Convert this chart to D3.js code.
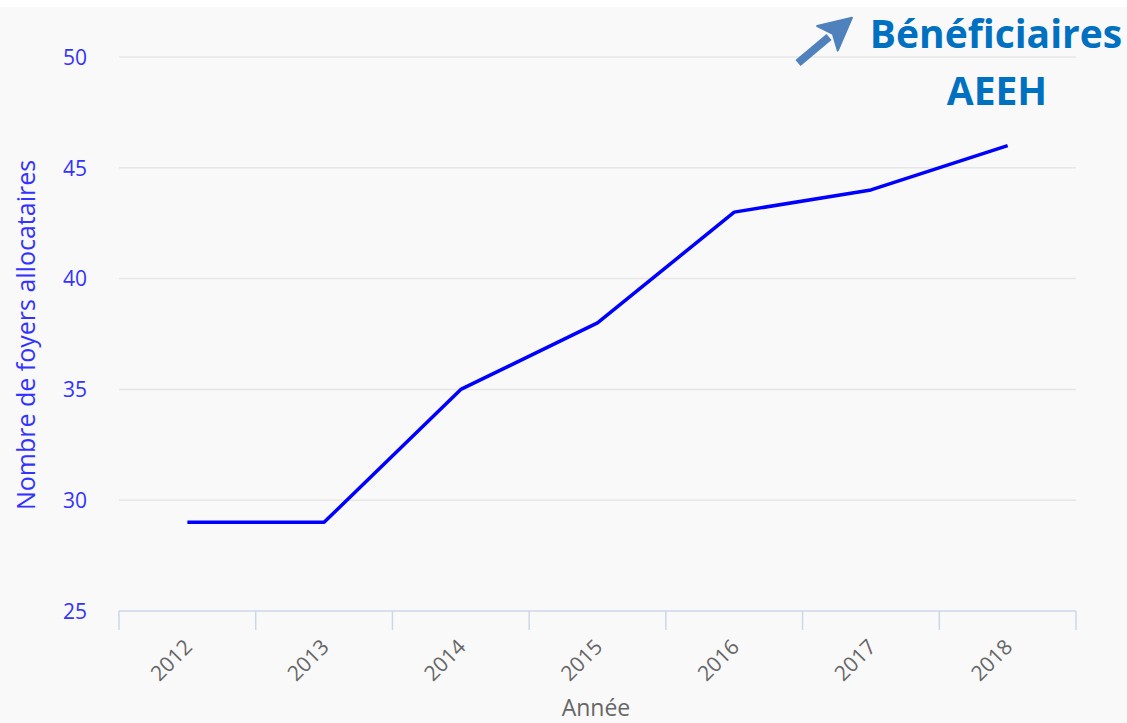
<!DOCTYPE html>
<html>
<head>
<meta charset="utf-8">
<script src="https://cdn.jsdelivr.net/npm/d3@7"></script>
<style>
  html, body { margin: 0; padding: 0; background: #ffffff; }
  svg { display: block; }
</style>
</head>
<body>
<svg id="chart" width="1127" height="723"></svg>
<script>
// AEEH beneficiary households per year
const years = ["2012", "2013", "2014", "2015", "2016", "2017", "2018"];
const foyers = [29, 29, 35, 38, 43, 44, 46];
const yTicks = [25, 30, 35, 40, 45, 50];

const W = 1127, H = 723;
const plot = { left: 119, right: 1076, top: 57, bottom: 611 };
const FONT = "Open Sans, DejaVu Sans, sans-serif";

const svg = d3.select("#chart");

// panel background
svg.append("rect")
  .attr("x", 0).attr("y", 7).attr("width", W).attr("height", H - 7)
  .attr("fill", "#f9f9fa");

const x = d3.scaleBand().domain(years).range([plot.left, plot.right]).padding(0);
const y = d3.scaleLinear().domain([25, 50]).range([plot.bottom, plot.top]);

// horizontal grid
svg.append("g")
  .selectAll("line")
  .data(yTicks.filter(t => t !== 25))
  .join("line")
  .attr("x1", plot.left).attr("x2", plot.right)
  .attr("y1", d => y(d)).attr("y2", d => y(d))
  .attr("stroke", "#e6e6e6").attr("stroke-width", 1.5);

// y axis labels
const yAxis = d3.axisLeft(y).tickValues(yTicks).tickSize(0).tickPadding(0);
const gy = svg.append("g").attr("transform", `translate(${plot.left - 32},0)`).call(yAxis);
gy.select(".domain").remove();
gy.selectAll("text")
  .attr("fill", "#3333ff")
  .attr("font-family", FONT)
  .attr("font-size", 21)
  .attr("dy", "0.35em");

// x axis with category-boundary ticks
const gx = svg.append("g").attr("transform", `translate(0,${plot.bottom})`);
gx.append("line")
  .attr("x1", plot.left).attr("x2", plot.right)
  .attr("y1", 0).attr("y2", 0)
  .attr("stroke", "#ccd6eb").attr("stroke-width", 1.5);
const bounds = years.map(d => x(d)).concat([x(years[years.length - 1]) + x.bandwidth()]);
gx.selectAll("line.tick")
  .data(bounds)
  .join("line")
  .attr("class", "tick")
  .attr("x1", d => d).attr("x2", d => d)
  .attr("y1", 0).attr("y2", 19)
  .attr("stroke", "#ccd6eb").attr("stroke-width", 1.5);
gx.selectAll("text")
  .data(years)
  .join("text")
  .attr("transform", d => `translate(${x(d) + x.bandwidth() / 2 + 1},${32}) rotate(-45)`)
  .attr("text-anchor", "end")
  .attr("dy", "0.35em")
  .attr("fill", "#666666")
  .attr("font-family", FONT)
  .attr("font-size", 21)
  .text(d => d);

// axis titles
svg.append("text")
  .attr("x", 596).attr("y", 716)
  .attr("text-anchor", "middle")
  .attr("fill", "#666666")
  .attr("font-family", FONT)
  .attr("font-size", 23)
  .text("Année");

svg.append("text")
  .attr("transform", `translate(35,335) rotate(-90)`)
  .attr("text-anchor", "middle")
  .attr("fill", "#3333ff")
  .attr("font-family", FONT)
  .attr("font-size", 25)
  .text("Nombre de foyers allocataires");

// series line
const line = d3.line()
  .x((d, i) => x(years[i]) + x.bandwidth() / 2)
  .y(d => y(d));
svg.append("path")
  .datum(foyers)
  .attr("d", line)
  .attr("fill", "none")
  .attr("stroke", "#0000ff")
  .attr("stroke-width", 3.5)
  .attr("stroke-linejoin", "round");

// headline with arrow
const defs = svg.append("defs");
defs.append("marker")
  .attr("id", "head")
  .attr("markerUnits", "userSpaceOnUse")
  .attr("viewBox", "0 0 34 34")
  .attr("refX", 3).attr("refY", 17)
  .attr("markerWidth", 34).attr("markerHeight", 34)
  .attr("orient", "auto")
  .append("path")
  .attr("d", "M1,1 L33,17 L1,33 L8,17 Z")
  .attr("fill", "#4f81bd")
  .attr("stroke", "#4f81bd").attr("stroke-width", 2).attr("stroke-linejoin", "round");
svg.append("line")
  .attr("x1", 798).attr("y1", 63)
  .attr("x2", 829).attr("y2", 37)
  .attr("stroke", "#4f81bd").attr("stroke-width", 8)
  .attr("marker-end", "url(#head)");

const title = svg.append("text")
  .attr("fill", "#0070c0")
  .attr("font-family", FONT)
  .attr("font-weight", "bold")
  .attr("font-size", 39)
  .attr("text-anchor", "middle");
title.append("tspan").attr("x", 996).attr("y", 48).text("Bénéficiaires");
title.append("tspan").attr("x", 997).attr("y", 105).text("AEEH");
</script>
</body>
</html>
